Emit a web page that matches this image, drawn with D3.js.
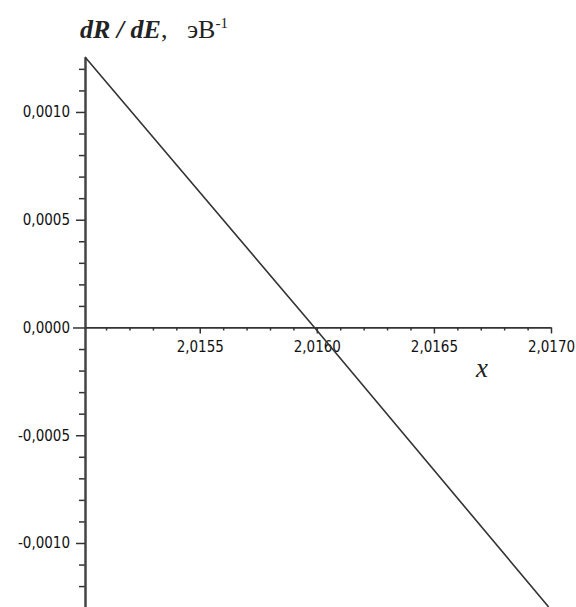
<!DOCTYPE html>
<html>
<head>
<meta charset="utf-8">
<script src="https://cdn.jsdelivr.net/npm/d3@7"></script>
<style>
  body { margin: 0; background: #fff; }
  .tick text { font-family: "DejaVu Sans Condensed", "DejaVu Sans", sans-serif; font-stretch: condensed; font-size: 15px; fill: #111; }
</style>
</head>
<body>
<div id="chart"></div>
<script>
// curve dR/dE vs x
let xValues = [2.01501, 2.01599, 2.01699];
let yValues = [0.001255, 0.0, -0.001297];

let xMajorTicks = [2.0155, 2.0160, 2.0165, 2.0170];
let xMinorTicks = [2.0151, 2.0152, 2.0153, 2.0154, 2.0156, 2.0157, 2.0158, 2.0159,
                   2.0161, 2.0162, 2.0163, 2.0164, 2.0166, 2.0167, 2.0168, 2.0169];
let yMajorTicks = [0.0010, 0.0005, 0.0000, -0.0005, -0.0010];
let yMinorTicks = [0.0012, 0.0011, 0.0009, 0.0008, 0.0007, 0.0006, 0.0004, 0.0003, 0.0002, 0.0001,
                   -0.0001, -0.0002, -0.0003, -0.0004, -0.0006, -0.0007, -0.0008, -0.0009,
                   -0.0011, -0.0012];

let elWidth = 576;
let elHeight = 607;

let svg = d3.select('#chart').append('svg')
    .attr('width', elWidth)
    .attr('height', elHeight);

let x = d3.scaleLinear().domain([2.01501, 2.0170]).range([85, 551]);
let y = d3.scaleLinear().domain([-0.001297, 0.001255]).range([607, 57]);

let locale = d3.formatLocale({decimal: ',', thousands: ' ', grouping: [3], currency: ['', ''], minus: '-'});
let fmt = locale.format('.4f');

// minor ticks
svg.append('g')
    .attr('transform', 'translate(' + x.range()[0] + ',0)')
    .call(d3.axisLeft(y).tickValues(yMinorTicks).tickSize(6).tickFormat(''))
    .call(g => g.select('.domain').remove())
    .selectAll('.tick line').attr('stroke', '#333').attr('stroke-width', 1.5);

svg.append('g')
    .attr('transform', 'translate(0,' + y(0) + ')')
    .call(d3.axisBottom(x).tickValues(xMinorTicks).tickSize(3).tickFormat(''))
    .call(g => g.select('.domain').remove())
    .selectAll('.tick line').attr('stroke', '#333').attr('stroke-width', 1.5);

// major y axis
let yAxis = svg.append('g')
    .attr('transform', 'translate(' + x.range()[0] + ',0)')
    .call(d3.axisLeft(y).tickValues(yMajorTicks).tickSize(9).tickSizeOuter(0).tickPadding(6).tickFormat(fmt));
yAxis.select('.domain').attr('stroke', '#444').attr('stroke-width', 2.5);
yAxis.selectAll('.tick line').attr('stroke', '#333').attr('stroke-width', 1.5);
yAxis.selectAll('.tick').filter(d => d === 0).select('line').attr('x2', -12);

// major x axis
let xAxis = svg.append('g')
    .attr('transform', 'translate(0,' + y(0) + ')')
    .call(d3.axisBottom(x).tickValues(xMajorTicks).tickSize(6).tickSizeOuter(0).tickPadding(8).tickFormat(fmt));
xAxis.select('.domain').attr('stroke', '#333').attr('stroke-width', 1.8);
xAxis.selectAll('.tick line').attr('stroke', '#333').attr('stroke-width', 1.5);

// curve
let data = xValues.map((v, i) => ({x: v, y: yValues[i]}));
let line = d3.line()
    .x(d => x(d.x))
    .y(d => y(d.y));

svg.append('path')
    .datum(data)
    .attr('fill', 'none')
    .attr('stroke', '#333')
    .attr('stroke-width', 1.6)
    .attr('d', line);

// axis titles
let title = svg.append('text')
    .attr('x', 80)
    .attr('y', 38)
    .attr('font-family', '"Liberation Serif", "Times New Roman", serif')
    .attr('font-size', 26)
    .attr('fill', '#222');
title.append('tspan').attr('font-weight', 'bold').attr('font-style', 'italic').text('dR / dE');
title.append('tspan').text(',\u00a0\u00a0\u00a0эВ');
title.append('tspan').attr('font-size', 15).attr('dy', -10).text('-1');

svg.append('text')
    .attr('x', 476)
    .attr('y', 377)
    .attr('font-family', '"Liberation Serif", "Times New Roman", serif')
    .attr('font-style', 'italic')
    .attr('font-size', 27)
    .attr('fill', '#222')
    .text('x');
</script>
</body>
</html>
